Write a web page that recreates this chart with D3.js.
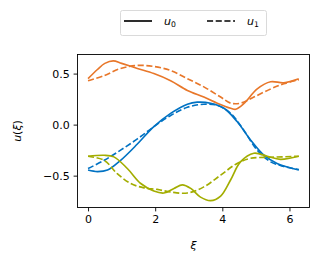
<!DOCTYPE html>
<meta charset="utf-8">
<style>
    body { margin: 0; background: #fff; }
    text { font-family: "DejaVu Sans", sans-serif; }
</style>
<body>
<script src="https://cdn.jsdelivr.net/npm/d3@7"></script>
<script>

// values, xi in [0, 2*pi]
var orangeSolidX = [0, 0.28, 0.5, 0.75, 1.0, 1.47, 1.96, 2.46, 2.96, 3.45, 3.85, 4.25, 4.4, 4.64, 5.04, 5.44, 5.83, 6.28];
var orangeSolidY = [0.45, 0.54, 0.6, 0.625, 0.6, 0.55, 0.50, 0.43, 0.335, 0.27, 0.21, 0.16, 0.15, 0.205, 0.35, 0.42, 0.41, 0.45];
var orangeDashX = [0, 0.48, 0.97, 1.47, 1.96, 2.46, 2.96, 3.45, 3.95, 4.25, 4.54, 4.94, 5.44, 5.83, 6.28];
var orangeDashY = [0.43, 0.48, 0.55, 0.58, 0.57, 0.53, 0.45, 0.37, 0.27, 0.21, 0.21, 0.27, 0.35, 0.40, 0.44];

var blueSolidX = [0, 0.28, 0.58, 0.97, 1.47, 1.96, 2.46, 2.96, 3.25, 3.65, 4.05, 4.44, 4.84, 5.24, 5.63, 6.28];
var blueSolidY = [-0.445, -0.46, -0.445, -0.35, -0.19, -0.02, 0.11, 0.2, 0.22, 0.21, 0.16, 0.03, -0.15, -0.30, -0.38, -0.445];
var blueDashX = [0, 0.48, 0.97, 1.47, 1.96, 2.46, 2.96, 3.45, 3.85, 4.25, 4.64, 5.04, 5.44, 5.83, 6.28];
var blueDashY = [-0.43, -0.35, -0.25, -0.14, -0.02, 0.09, 0.17, 0.2, 0.19, 0.11, -0.055, -0.25, -0.365, -0.41, -0.44];

var oliveSolidX = [0, 0.48, 0.77, 1.17, 1.57, 1.96, 2.26, 2.56, 2.81, 3.06, 3.35, 3.65, 3.95, 4.25, 4.54, 4.94, 5.34, 5.73, 6.28];
var oliveSolidY = [-0.31, -0.30, -0.316, -0.43, -0.577, -0.65, -0.67, -0.625, -0.59, -0.625, -0.71, -0.745, -0.70, -0.54, -0.365, -0.28, -0.31, -0.34, -0.31];
var oliveDashX = [0, 0.48, 0.87, 1.27, 1.67, 2.06, 2.46, 2.96, 3.45, 3.95, 4.44, 4.84, 5.44, 6.28];
var oliveDashY = [-0.31, -0.35, -0.48, -0.577, -0.62, -0.635, -0.66, -0.67, -0.61, -0.495, -0.38, -0.33, -0.32, -0.31];

var xTicks = [0, 2, 4, 6];
var yTicks = [-0.5, 0.0, 0.5];

var dashed = "6.1,2.6";
var series = [
  {x: orangeSolidX, y: orangeSolidY, color: "#e8772a", dash: null},
  {x: orangeDashX, y: orangeDashY, color: "#e8772a", dash: dashed},
  {x: blueSolidX, y: blueSolidY, color: "#0072c3", dash: null},
  {x: blueDashX, y: blueDashY, color: "#0072c3", dash: dashed},
  {x: oliveSolidX, y: oliveSolidY, color: "#a3ad00", dash: null},
  {x: oliveDashX, y: oliveDashY, color: "#a3ad00", dash: dashed}
];

var margin = {top: 54.5, right: 9.5, bottom: 57.5, left: 77.5},
    W = 319, H = 265,
    width = W - margin.left - margin.right,
    height = H - margin.top - margin.bottom;

var svg = d3.select("body").append("svg")
    .attr("width", W)
    .attr("height", H);

var g = svg.append("g")
    .attr("transform", "translate(" + margin.left + "," + margin.top + ")");

var x = d3.scaleLinear().domain([-0.314, 6.597]).range([0, width]);
var y = d3.scaleLinear().domain([-0.812, 0.687]).range([height, 0]);

var line = d3.line()
    .x(function(d) { return x(d[0]); })
    .y(function(d) { return y(d[1]); })
    .curve(d3.curveCatmullRom.alpha(0.5));

series.forEach(function(s) {
  g.append("path")
    .datum(d3.zip(s.x, s.y))
    .attr("d", line)
    .attr("fill", "none")
    .attr("stroke", s.color)
    .attr("stroke-width", 1.65)
    .attr("stroke-dasharray", s.dash);
});

var xAxis = g.append("g")
    .attr("transform", "translate(0," + height + ")")
    .call(d3.axisBottom(x).tickValues(xTicks).tickSize(3.9).tickPadding(3.9).tickFormat(d3.format("d")));
var yAxis = g.append("g")
    .call(d3.axisLeft(y).tickValues(yTicks).tickSize(3.9).tickPadding(3.9)
      .tickFormat(function(d) { return d3.format(".1f")(d).replace("-", "\u2212"); }));

[xAxis, yAxis].forEach(function(a) {
  a.select(".domain").remove();
  a.selectAll("line").attr("stroke", "#000").attr("stroke-width", 0.9);
  a.selectAll("text").attr("font-size", 11).attr("fill", "#000")
    .style("font-family", "DejaVu Sans");
});

g.append("rect")
    .attr("width", width)
    .attr("height", height)
    .attr("fill", "none")
    .attr("stroke", "#000")
    .attr("stroke-width", 0.9);

// axis labels
svg.append("text")
    .attr("x", margin.left + width / 2)
    .attr("y", 249)
    .attr("text-anchor", "middle")
    .attr("font-size", 11)
    .attr("font-style", "italic")
    .text("\u03be");

svg.append("text")
    .attr("transform", "translate(21," + (margin.top + height / 2) + ") rotate(-90)")
    .attr("text-anchor", "middle")
    .attr("font-size", 11)
    .html('<tspan font-style="italic">u</tspan>(<tspan font-style="italic">\u03be</tspan>)');

// legend
var leg = svg.append("g");
leg.append("rect")
    .attr("x", 120.5).attr("y", 10.5)
    .attr("width", 146).attr("height", 25)
    .attr("rx", 2)
    .attr("fill", "#fff")
    .attr("stroke", "#d6d6d6")
    .attr("stroke-width", 0.9);

var legItems = [
  {label: "0", dash: null, x0: 124},
  {label: "1", dash: dashed, x0: 207}
];
legItems.forEach(function(it) {
  leg.append("line")
    .attr("x1", it.x0).attr("x2", it.x0 + 28)
    .attr("y1", 21).attr("y2", 21)
    .attr("stroke", "#000")
    .attr("stroke-width", 1.65)
    .attr("stroke-dasharray", it.dash);
  var t = leg.append("text")
    .attr("x", it.x0 + 40)
    .attr("y", 25)
    .attr("font-size", 11);
  t.append("tspan").attr("font-style", "italic").text("u");
  t.append("tspan").attr("font-size", 7.7).attr("dy", 1.6).text(it.label);
});

</script>
</body>
